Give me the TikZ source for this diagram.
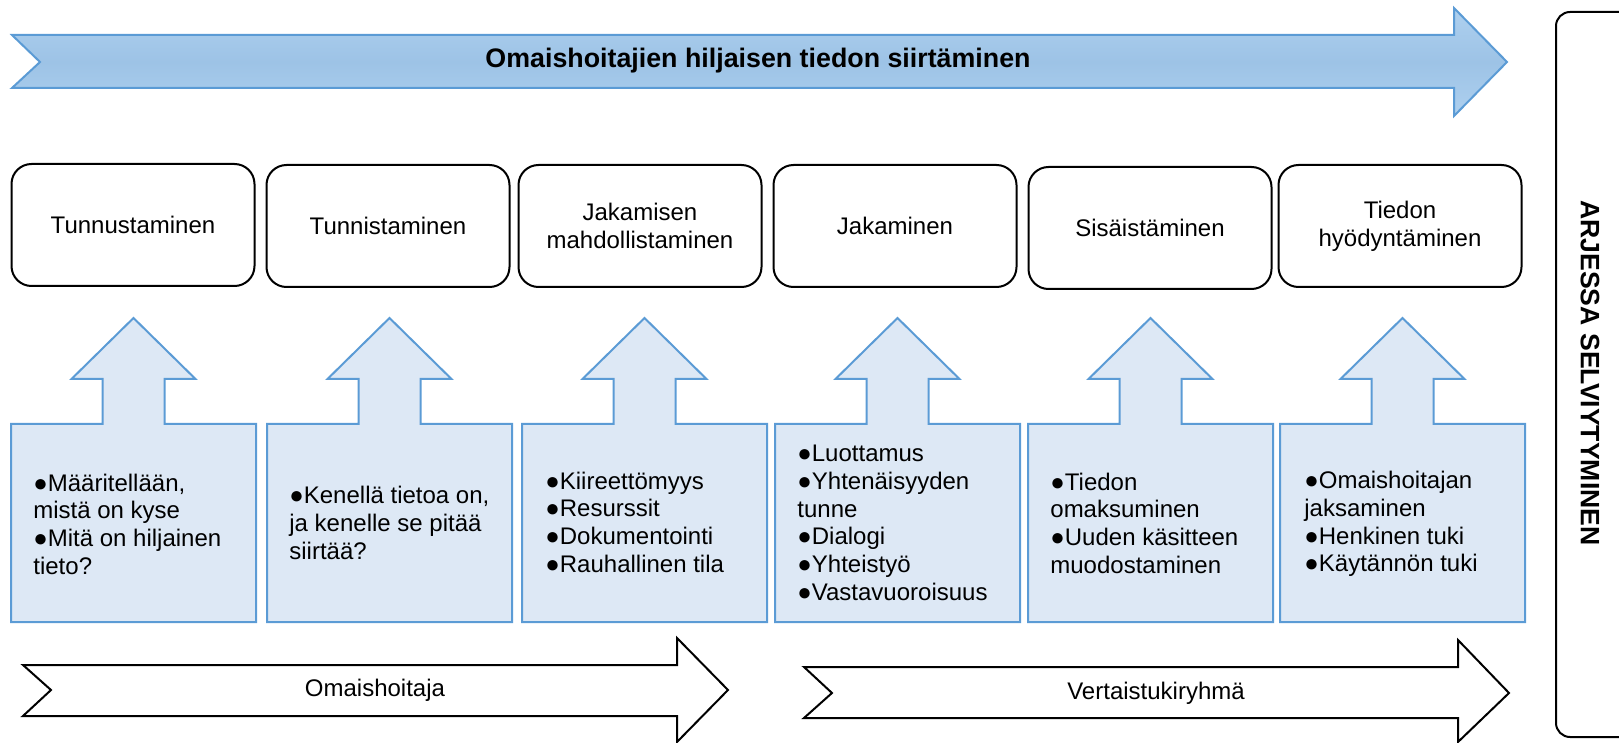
\documentclass[tikz,border=0pt]{standalone}
\usepackage{fontspec}
\setmainfont{Liberation Sans}
\usepackage{xcolor}
\definecolor{bandblue}{RGB}{157,195,230}
\definecolor{bandlight}{RGB}{174,208,239}
\definecolor{edgeblue}{RGB}{91,155,213}
\definecolor{calloutfill}{RGB}{221,232,245}

\begin{document}
\begin{tikzpicture}[x=0.5pt,y=-0.5pt,
    phase/.style={draw,line width=1pt,rounded corners=10pt,minimum width=121.5pt,minimum height=61pt,align=center,font=\fontsize{12}{13.85}\selectfont},
    upbox/.style={draw=edgeblue,line width=1pt,fill=calloutfill},
    bullets/.style={anchor=west,align=left,inner sep=0pt,font=\fontsize{12}{13.85}\selectfont},
    flow/.style={draw,line width=1pt,fill=white}]
  \useasboundingbox (0,0) rectangle (1619,743);
  % big arrow on top
  \draw [edgeblue,line width=1pt,top color=bandlight,bottom color=bandlight,middle color=bandblue] (12,35) -- (1454,35) -- (1454,8) -- (1507,62) -- (1454,116) -- (1454,88) -- (12,88) -- (40,62) -- cycle;
  \node [font=\bfseries\fontsize{13.4}{15}\selectfont] (title) at (758,61) {Omaishoitajien hiljaisen tiedon siirtäminen};
  % phases
  \node [phase] (p1) at (133,225) {Tunnustaminen};
  \node [phase] (p2) at (388,226) {Tunnistaminen};
  \node [phase] (p3) at (640,226) {Jakamisen\\mahdollistaminen};
  \node [phase] (p4) at (895,226) {Jakaminen};
  \node [phase] (p5) at (1150,228) {Sisäistäminen};
  \node [phase] (p6) at (1400,226) {Tiedon\\hyödyntäminen};
  % up arrows with the boxes under them
  \foreach \l in {11,267,522,775,1028,1280}
    \draw [upbox] (\l,424) -- ({\l+91.5},424) -- ({\l+91.5},379) -- ({\l+60.5},379) -- ({\l+122.5},318) -- ({\l+184.5},379) -- ({\l+153.5},379) -- ({\l+153.5},424) -- ({\l+245},424) -- ({\l+245},622) -- (\l,622) -- cycle;
  \node [bullets] (c1) at (33,524) {●Määritellään,\\mistä on kyse\\●Mitä on hiljainen\\tieto?};
  \node [bullets] (c2) at (289,523) {●Kenellä tietoa on,\\ja kenelle se pitää\\siirtää?};
  \node [bullets] (c3) at (545,522) {●Kiireettömyys\\●Resurssit\\●Dokumentointi\\●Rauhallinen tila};
  \node [bullets] (c4) at (797,523) {●Luottamus\\●Yhtenäisyyden\\tunne\\●Dialogi\\●Yhteistyö\\●Vastavuoroisuus};
  \node [bullets] (c5) at (1050,523) {●Tiedon\\omaksuminen\\●Uuden käsitteen\\muodostaminen};
  \node [bullets] (c6) at (1304,524) {●Omaishoitajan\\jaksaminen\\●Henkinen tuki\\●Käytännön tuki};
  % actors
  \draw [flow] (23,665) -- (677,665) -- (677,638) -- (728,690) -- (677,742) -- (677,716) -- (23,716) -- (51,690) -- cycle;
  \node [font=\fontsize{12}{13.85}\selectfont] (carer) at (375,690) {Omaishoitaja};
  \draw [flow] (804,667) -- (1458,667) -- (1458,640) -- (1509,693) -- (1458,742) -- (1458,718) -- (804,718) -- (832,693) -- cycle;
  \node [font=\fontsize{12}{13.85}\selectfont] (peers) at (1156,693) {Vertaistukiryhmä};
  % side box
  \draw [line width=1pt,rounded corners=7pt] (1619,12) -- (1556,12) -- (1556,737) -- (1619,737);
  \node [rotate=-90,font=\bfseries\fontsize{13.3}{15}\selectfont] (life) at (1590,373) {ARJESSA SELVIYTYMINEN};
\end{tikzpicture}
\end{document}
